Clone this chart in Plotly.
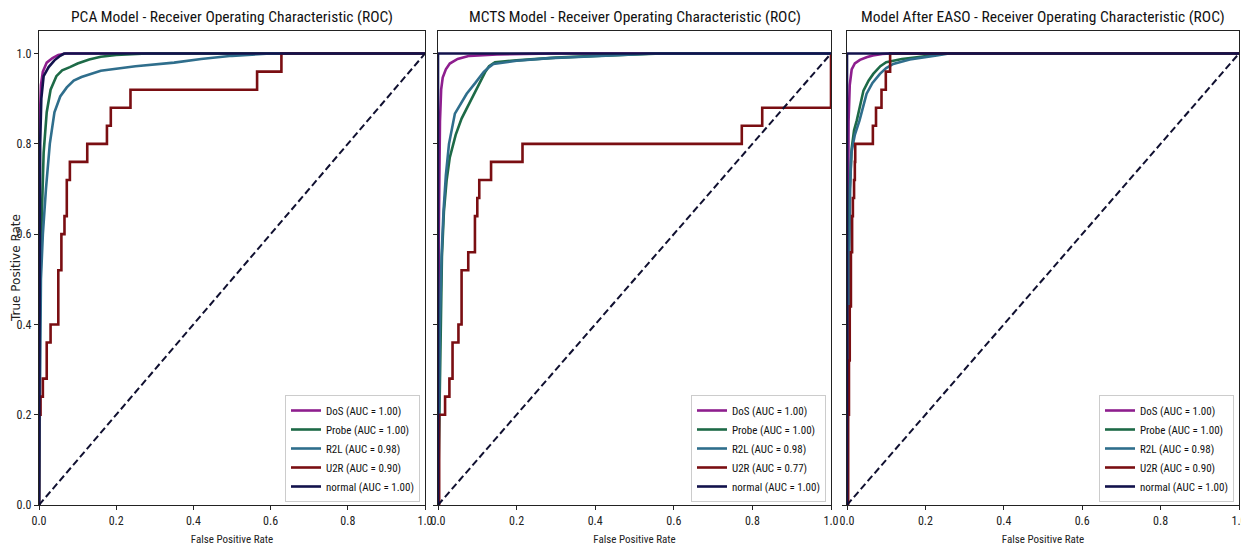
import plotly.graph_objects as go

# ---------------- data ----------------
panel_titles = [
    "PCA Model - Receiver Operating Characteristic (ROC)",
    "MCTS Model - Receiver Operating Characteristic (ROC)",
    "Model After EASO - Receiver Operating Characteristic (ROC)",
]
classes = ["DoS", "Probe", "R2L", "U2R", "normal"]
auc_pca = ["1.00", "1.00", "0.98", "0.90", "1.00"]
auc_mcts = ["1.00", "1.00", "0.98", "0.77", "1.00"]
auc_easo = ["1.00", "1.00", "0.98", "0.90", "1.00"]
x_ticks = [0.0, 0.2, 0.4, 0.6, 0.8, 1.0]
y_ticks = [0.0, 0.2, 0.4, 0.6, 0.8, 1.0]

# PCA model
pca_dos_fpr = [0, 0.0, 0.002, 0.005, 0.01, 0.02, 0.035, 0.05, 0.07, 1.0]
pca_dos_tpr = [0, 0.5, 0.85, 0.93, 0.96, 0.98, 0.99, 0.997, 1.0, 1.0]
pca_probe_fpr = [0, 0.002, 0.006, 0.012, 0.02, 0.03, 0.045, 0.06, 0.08, 0.1, 0.13, 0.16, 0.2, 0.28, 1.0]
pca_probe_tpr = [0, 0.4, 0.6, 0.78, 0.87, 0.92, 0.95, 0.963, 0.97, 0.978, 0.987, 0.993, 0.997, 1.0, 1.0]
pca_r2l_fpr = [0, 0.002, 0.005, 0.01, 0.018, 0.028, 0.04, 0.055, 0.072, 0.09, 0.11, 0.16, 0.25, 0.35, 0.42, 0.5, 0.6, 1.0]
pca_r2l_tpr = [0, 0.3, 0.5, 0.6, 0.7, 0.8, 0.87, 0.905, 0.925, 0.94, 0.948, 0.962, 0.972, 0.98, 0.988, 0.995, 1.0, 1.0]
pca_u2r_fpr = [0, 0, 0.004, 0.01, 0.02, 0.03, 0.05, 0.058, 0.066, 0.072, 0.08, 0.125, 0.176, 0.186, 0.237, 0.565, 0.628, 1.0]
pca_u2r_tpr = [0, 0.2, 0.24, 0.28, 0.36, 0.40, 0.52, 0.60, 0.64, 0.72, 0.76, 0.80, 0.84, 0.88, 0.92, 0.96, 1.0, 1.0]
pca_normal_fpr = [0, 0.001, 0.003, 0.006, 0.012, 0.025, 0.04, 0.055, 0.065, 1.0]
pca_normal_tpr = [0, 0.5, 0.8, 0.9, 0.95, 0.97, 0.985, 0.995, 1.0, 1.0]

# MCTS model
mcts_dos_fpr = [0, 0.002, 0.005, 0.008, 0.012, 0.02, 0.03, 0.05, 0.08, 0.15, 0.3, 1.0]
mcts_dos_tpr = [0, 0.6, 0.85, 0.92, 0.947, 0.965, 0.978, 0.988, 0.995, 0.998, 1.0, 1.0]
mcts_probe_fpr = [0, 0.003, 0.006, 0.01, 0.015, 0.022, 0.03, 0.045, 0.06, 0.08, 0.098, 0.11, 0.12, 0.13, 0.145, 0.2, 0.3, 0.4, 0.5, 0.57, 1.0]
mcts_probe_tpr = [0, 0.2, 0.4, 0.55, 0.65, 0.72, 0.77, 0.82, 0.856, 0.89, 0.918, 0.94, 0.959, 0.972, 0.981, 0.985, 0.991, 0.995, 0.998, 1.0, 1.0]
mcts_r2l_fpr = [0, 0.002, 0.005, 0.009, 0.014, 0.02, 0.028, 0.043, 0.073, 0.095, 0.116, 0.13, 0.141, 0.2, 0.285, 0.4, 0.55, 1.0]
mcts_r2l_tpr = [0, 0.2, 0.4, 0.55, 0.65, 0.73, 0.8, 0.867, 0.911, 0.935, 0.959, 0.97, 0.977, 0.984, 0.99, 0.994, 1.0, 1.0]
mcts_u2r_fpr = [0, 0.003, 0.018, 0.029, 0.037, 0.052, 0.06, 0.077, 0.094, 0.1, 0.105, 0.135, 0.215, 0.773, 0.825, 1.0, 1.0]
mcts_u2r_tpr = [0, 0.2, 0.24, 0.28, 0.36, 0.40, 0.52, 0.56, 0.64, 0.68, 0.72, 0.76, 0.80, 0.84, 0.88, 0.92, 1.0]
mcts_normal_fpr = [0, 0, 1.0]
mcts_normal_tpr = [0, 1.0, 1.0]

# Model after EASO
easo_dos_fpr = [0, 0.002, 0.004, 0.007, 0.012, 0.02, 0.033, 0.05, 0.066, 0.09, 0.11, 1.0]
easo_dos_tpr = [0, 0.6, 0.85, 0.93, 0.965, 0.978, 0.986, 0.992, 0.996, 0.999, 1.0, 1.0]
easo_probe_fpr = [0, 0.002, 0.004, 0.007, 0.012, 0.018, 0.025, 0.042, 0.055, 0.067, 0.085, 0.1, 0.14, 0.178, 0.22, 0.25, 1.0]
easo_probe_tpr = [0, 0.3, 0.55, 0.7, 0.79, 0.83, 0.852, 0.918, 0.94, 0.955, 0.972, 0.981, 0.988, 0.992, 0.997, 1.0, 1.0]
easo_r2l_fpr = [0, 0.002, 0.005, 0.008, 0.011, 0.02, 0.032, 0.05, 0.065, 0.084, 0.1, 0.118, 0.16, 0.229, 0.26, 1.0]
easo_r2l_tpr = [0, 0.25, 0.5, 0.7, 0.78, 0.82, 0.852, 0.911, 0.935, 0.955, 0.968, 0.977, 0.987, 0.996, 1.0, 1.0]
easo_u2r_fpr = [0, 0.003, 0.005, 0.007, 0.01, 0.013, 0.015, 0.018, 0.02, 0.021, 0.066, 0.074, 0.088, 0.099, 0.11, 1.0]
easo_u2r_tpr = [0, 0.2, 0.32, 0.44, 0.56, 0.64, 0.68, 0.72, 0.76, 0.80, 0.84, 0.88, 0.92, 0.96, 1.0, 1.0]
easo_normal_fpr = [0, 0, 1.0]
easo_normal_tpr = [0, 1.0, 1.0]

chance_fpr = [0.0, 1.0]
chance_tpr = [0.0, 1.0]

# ---------------- styling ----------------
colors = ["#8E1E8E", "#1D6A47", "#2F6E8C", "#7A0E12", "#12124C"]
cond = "Roboto Condensed, DejaVu Sans Condensed, sans-serif"

panels = [
    (auc_pca, [(pca_dos_fpr, pca_dos_tpr), (pca_probe_fpr, pca_probe_tpr), (pca_r2l_fpr, pca_r2l_tpr),
               (pca_u2r_fpr, pca_u2r_tpr), (pca_normal_fpr, pca_normal_tpr)]),
    (auc_mcts, [(mcts_dos_fpr, mcts_dos_tpr), (mcts_probe_fpr, mcts_probe_tpr), (mcts_r2l_fpr, mcts_r2l_tpr),
                (mcts_u2r_fpr, mcts_u2r_tpr), (mcts_normal_fpr, mcts_normal_tpr)]),
    (auc_easo, [(easo_dos_fpr, easo_dos_tpr), (easo_probe_fpr, easo_probe_tpr), (easo_r2l_fpr, easo_r2l_tpr),
                (easo_u2r_fpr, easo_u2r_tpr), (easo_normal_fpr, easo_normal_tpr)]),
]

# page body has an 8px margin, so the figure is 8px smaller and margins are shifted
W, H = 1241, 538
ml, mr, mt, mb = 31, 10, 23, 41
pw = W - ml - mr
ph = H - mt - mb
domains = [(0, 386), (399, 792), (808, 1200)]
domains = [(a / pw, b / pw) for a, b in domains]

fig = go.Figure()
for p, (aucs, curves) in enumerate(panels):
    ax = "" if p == 0 else str(p + 1)
    leg = "legend" if p == 0 else f"legend{p + 1}"
    for i, (fx, ty) in enumerate(curves):
        fig.add_trace(go.Scatter(
            x=fx, y=ty, mode="lines",
            line=dict(color=colors[i], width=2.6, shape="hv" if classes[i] == "U2R" else "linear"),
            name=f"{classes[i]} (AUC = {aucs[i]})",
            xaxis="x" + ax, yaxis="y" + ax, legend=leg,
        ))
    fig.add_trace(go.Scatter(
        x=chance_fpr, y=chance_tpr, mode="lines",
        line=dict(color="#101030", width=2, dash="7px,3.5px"),
        showlegend=False, xaxis="x" + ax, yaxis="y" + ax,
    ))

axis_common = dict(showline=True, linecolor="#222", linewidth=1.2, mirror=True, ticks="outside",
                   ticklen=4, tickcolor="#222", showgrid=False, zeroline=False, automargin=False,
                   tickfont=dict(family=cond, size=12, color="#222"))
layout = dict(width=W, height=H, margin=dict(l=ml, r=mr, t=mt, b=mb),
              plot_bgcolor="white", paper_bgcolor="white", showlegend=True)
annotations = []
for p in range(3):
    ax = "" if p == 0 else str(p + 1)
    layout["xaxis" + ax] = dict(axis_common, domain=list(domains[p]), range=[0, 1.0],
                                tickvals=x_ticks, ticktext=[f"{v:.1f}" for v in x_ticks],
                                anchor="y" + ax,
                                title=dict(text="False Positive Rate",
                                           font=dict(family=cond, size=11, color="#222")))
    ydict = dict(axis_common, domain=[0, 1], range=[0, 1.05], tickvals=y_ticks,
                 ticktext=[f"{v:.1f}" for v in y_ticks], anchor="x" + ax)
    if p > 0:
        ydict["showticklabels"] = False
    layout["yaxis" + ax] = ydict
    leg = "legend" if p == 0 else f"legend{p + 1}"
    layout[leg] = dict(x=domains[p][1] - 5 / pw, xanchor="right", y=3 / ph, yanchor="bottom",
                       xref="paper", yref="paper", bgcolor="rgba(255,255,255,0.9)",
                       bordercolor="#cccccc", borderwidth=1, itemwidth=30, tracegroupgap=0,
                       font=dict(family=cond, size=11, color="#111"))
    annotations.append(dict(text=panel_titles[p], x=(domains[p][0] + domains[p][1]) / 2, y=1,
                            xref="paper", yref="paper", xanchor="center", yanchor="bottom", yshift=3,
                            showarrow=False, font=dict(family=cond, size=15.5, color="#111")))
annotations.append(dict(text="True Positive Rate", x=-(ml - 8) / pw, y=0.5, xref="paper", yref="paper",
                        xanchor="center", yanchor="middle", textangle=-90, showarrow=False,
                        borderpad=0, font=dict(family="DejaVu Sans", size=12, color="#222")))
layout["annotations"] = annotations
fig.update_layout(**layout)
fig.write_html("out.html")
